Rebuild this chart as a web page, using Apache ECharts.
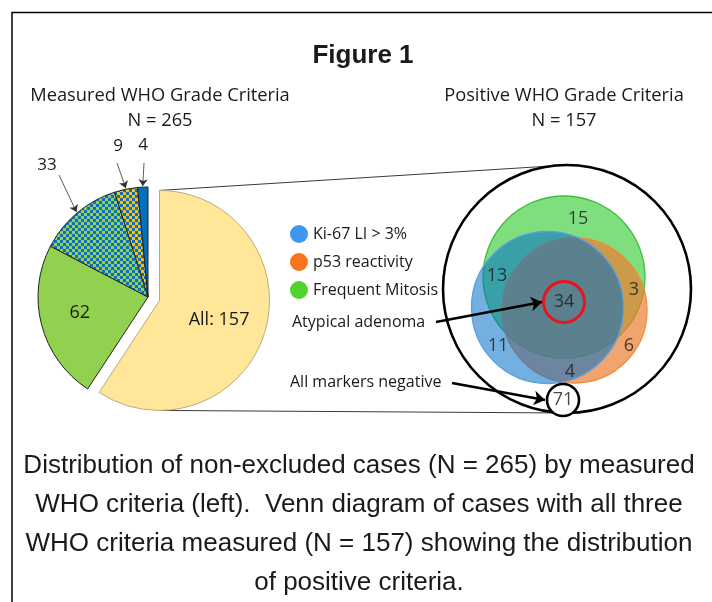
<!DOCTYPE html>
<html>
<head>
<meta charset="utf-8">
<script src="https://cdn.jsdelivr.net/npm/echarts@6/dist/echarts.min.js"></script>
<style>
  html, body { margin: 0; padding: 0; background: #fff; }
  #chart { width: 712px; height: 602px; }
</style>
</head>
<body>
<div id="chart"></div>
<script>
// left pie: measured WHO criteria (N = 265)
const pieNames = ['All', 'Mitosis', 'Mitosis + Ki-67', 'Ki-67 + p53', 'Ki-67'];
const pieValues = [157, 62, 33, 9, 4];

// right venn: positive WHO criteria (N = 157)
const vennSets = ['Ki-67 LI > 3%', 'p53 reactivity', 'Frequent Mitosis'];
const vennCounts = [15, 13, 3, 34, 11, 6, 4, 71];

// ---- layout (pixels) ----
const pieCenter = [148, 297];
const pieRadius = 110;
const pieOffset = 12;
const pieLabelPos = [null, null, [47, 165], [118, 146], [143, 145]];
const pieLabelShift = [[4, 3], [-12, 1]];
const pieArrowTails = [null, null, [59, 175], [117, 163], [144, 163]];

// venn circles [cx, cy, r], same order as vennSets
const vennCircles = [[547.5, 307.5, 76], [574.5, 310.5, 72.5], [564, 277, 81]];
const vennFill = ['rgba(0,110,200,0.55)', 'rgba(237,125,49,0.7)', 'rgba(0,192,0,0.5)'];
const vennStroke = ['#5aa0e0', '#ef8a40', '#3cbf3c'];
const vennLegendColor = ['#3d97ee', '#f7731c', '#52d22c'];
const vennDrawOrder = [2, 1, 0];
const vennLabelPos = [[578, 219], [497, 276], [634, 290], [564, 302], [498, 346], [629, 346], [570, 372], [563, 400]];
// outer ring, atypical ring, negative ring
const rings = [[567, 289, 124], [564, 302, 20.5], [563, 400, 16]];

const sans = '"Open Sans", Lato, sans-serif';
const arial = '"Liberation Sans", Arial, sans-serif';

function checker(a, b) {
  const c = document.createElement('canvas');
  c.width = 6; c.height = 6;
  const g = c.getContext('2d');
  g.fillStyle = a; g.fillRect(0, 0, 6, 6);
  g.fillStyle = b; g.fillRect(0, 0, 3, 3); g.fillRect(3, 3, 3, 3);
  return { image: c, repeat: 'repeat' };
}

const pieStyles = [
  { color: '#ffe699', borderColor: '#b9ab7c', borderWidth: 1 },
  { color: '#92d050', borderColor: '#222', borderWidth: 1 },
  { color: checker('#92d050', '#0f6fbf'), borderColor: '#222', borderWidth: 1 },
  { color: checker('#ffc000', '#0f6fbf'), borderColor: '#222', borderWidth: 1 },
  { color: '#0070c0', borderColor: '#222', borderWidth: 1 }
];

// slice geometry from the values
const total = pieValues.reduce((a, b) => a + b, 0);
let acc = 0;
const midAngles = pieValues.map(v => {
  const m = (acc + v / 2) / total * Math.PI * 2;
  acc += v;
  return m;
});
const polar = (c, r, a) => [c[0] + r * Math.sin(a), c[1] - r * Math.cos(a)];
const yellowCenter = polar(pieCenter, pieOffset, midAngles[0]);

const pieArrows = [];
pieArrowTails.forEach((t, i) => {
  if (t) pieArrows.push({ coords: [t, polar(pieCenter, pieRadius + 1, midAngles[i])] });
});

const big = rings[0];
const connectors = [
  { coords: [[yellowCenter[0], yellowCenter[1] - pieRadius], [big[0], big[1] - big[2]]] },
  { coords: [[yellowCenter[0], yellowCenter[1] + pieRadius], [big[0], big[1] + big[2]]] }
];
const bigArrows = [
  { coords: [[436, 322], [542, 302]] },
  { coords: [[452, 383], [545, 400]] }
];

const myChart = echarts.init(document.getElementById('chart'));

const vennSeries = vennDrawOrder.map(i => ({
  type: 'custom',
  name: vennSets[i],
  coordinateSystem: 'cartesian2d',
  itemStyle: { color: vennLegendColor[i] },
  silent: true,
  data: [[vennCircles[i][0], vennCircles[i][1]]],
  renderItem: (params, api) => {
    const c = api.coord([api.value(0), api.value(1)]);
    const r = api.size([vennCircles[i][2], 0])[0];
    return {
      type: 'circle',
      shape: { cx: c[0], cy: c[1], r: r },
      style: { fill: vennFill[i], stroke: vennStroke[i], lineWidth: 1.3 }
    };
  }
}));

const ringStyles = [
  { fill: 'none', stroke: '#000', lineWidth: 2.6 },
  { fill: 'none', stroke: '#e8141a', lineWidth: 3 },
  { fill: '#fff', stroke: '#000', lineWidth: 2.6 }
];

function txt(text, x, y, size, font, extra) {
  return {
    type: 'text', x: x, y: y, silent: true,
    style: Object.assign({
      text: text, fontSize: size, fontFamily: font || sans, fill: '#1a1a1a',
      align: 'center', verticalAlign: 'middle'
    }, extra || {})
  };
}

const option = {
  animation: false,
  grid: { left: 0, right: 0, top: 0, bottom: 0 },
  xAxis: { type: 'value', min: 0, max: 712, show: false },
  yAxis: { type: 'value', min: 0, max: 602, inverse: true, show: false },
  legend: {
    orient: 'vertical',
    left: 285,
    top: 220,
    icon: 'circle',
    itemWidth: 18,
    itemHeight: 18,
    itemGap: 10,
    selectedMode: false,
    textStyle: { fontSize: 16, fontFamily: sans, color: '#1a1a1a' },
    data: vennSets.map((n, i) => ({ name: n, itemStyle: { color: vennLegendColor[i] } }))
  },
  series: [
    {
      type: 'pie',
      center: pieCenter,
      radius: pieRadius,
      startAngle: 90,
      selectedMode: 'single',
      selectedOffset: pieOffset,
      emphasis: { disabled: true },
      silent: true,
      label: {
        show: true,
        position: 'inner',
        fontSize: 18,
        fontFamily: sans,
        color: '#1a1a1a',
        formatter: p => (p.dataIndex === 0 ? 'All: ' : '') + p.value
      },
      labelLine: { show: false },
      labelLayout: p => {
        const i = p.dataIndex;
        if (pieLabelPos[i]) {
          return { x: pieLabelPos[i][0], y: pieLabelPos[i][1], align: 'center', verticalAlign: 'middle' };
        }
        return { dx: pieLabelShift[i][0], dy: pieLabelShift[i][1] };
      },
      data: pieValues.map((v, i) => ({
        name: pieNames[i],
        value: v,
        selected: i === 0,
        itemStyle: pieStyles[i],
        select: { itemStyle: pieStyles[i] },
        label: i >= 2 ? { fontSize: 17 } : {}
      }))
    },
    {
      type: 'lines',
      coordinateSystem: 'cartesian2d',
      silent: true,
      symbol: ['none', 'none'],
      lineStyle: { color: '#3a3a3a', width: 1, opacity: 1 },
      data: connectors
    },
    ...vennSeries,
    {
      type: 'custom',
      coordinateSystem: 'cartesian2d',
      silent: true,
      data: rings.map(r => [r[0], r[1], r[2]]),
      renderItem: (params, api) => {
        const c = api.coord([api.value(0), api.value(1)]);
        const r = api.size([api.value(2), 0])[0];
        return { type: 'circle', shape: { cx: c[0], cy: c[1], r: r }, style: ringStyles[params.dataIndex] };
      }
    },
    {
      type: 'scatter',
      silent: true,
      symbolSize: 0,
      data: vennLabelPos,
      label: {
        show: true,
        position: 'inside',
        fontSize: 18,
        fontFamily: sans,
        color: '#1a1a1a',
        formatter: p => vennCounts[p.dataIndex]
      }
    },
    {
      type: 'lines',
      coordinateSystem: 'cartesian2d',
      silent: true,
      symbol: ['none', 'arrow'],
      symbolSize: 7,
      lineStyle: { color: '#333', width: 0.8, opacity: 1 },
      data: pieArrows
    },
    {
      type: 'lines',
      coordinateSystem: 'cartesian2d',
      silent: true,
      symbol: ['none', 'arrow'],
      symbolSize: 11,
      lineStyle: { color: '#000', width: 2.6, opacity: 1 },
      data: bigArrows
    }
  ],
  graphic: [
    { type: 'polyline', silent: true, shape: { points: [[12, 602], [12, 12.5], [712, 12.5]] }, style: { stroke: '#000', lineWidth: 1.5, fill: null } },
    txt('Figure 1', 363, 56, 26, arial, { fontWeight: 'bold' }),
    txt('Measured WHO Grade Criteria', 160, 96, 18.3),
    txt('N = 265', 160, 121, 18.3),
    txt('Positive WHO Grade Criteria', 564, 96, 18.3),
    txt('N = 157', 564, 121, 18.3),
    txt('Atypical adenoma', 292, 322, 16, sans, { align: 'left' }),
    txt('All markers negative', 290, 382, 16, sans, { align: 'left' }),
    txt('Distribution of non-excluded cases (N = 265) by measured', 359, 466, 26, arial),
    txt('WHO criteria (left).  Venn diagram of cases with all three', 359, 505, 26, arial),
    txt('WHO criteria measured (N = 157) showing the distribution', 359, 544, 26, arial),
    txt('of positive criteria.', 359, 583, 26, arial)
  ]
};

myChart.setOption(option);
</script>
</body>
</html>
